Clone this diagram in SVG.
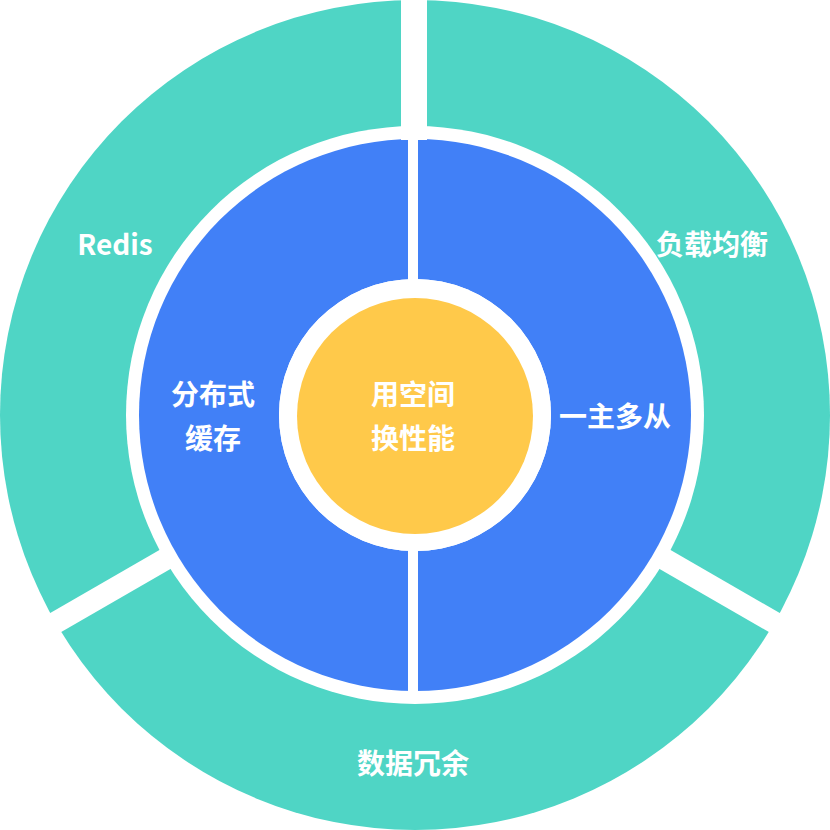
<svg xmlns="http://www.w3.org/2000/svg" width="830" height="830" viewBox="0 0 830 830">
<style>
.t{font-family:"Noto Sans CJK SC","Liberation Sans",sans-serif;font-weight:bold;fill:#fff;text-anchor:middle;dominant-baseline:central}
.gap{stroke:#fff;fill:none}
</style>
<rect width="830" height="830" fill="#fff"/>
<g id="outer-ring">
<circle cx="415" cy="415" r="415" fill="#4FD5C5"/>
<circle cx="415" cy="415" r="289" fill="#fff"/>
</g>
<g id="middle-ring">
<circle cx="415" cy="415" r="276" fill="#4180F7"/>
<circle cx="415" cy="415" r="136" fill="#fff"/>
</g>
<g id="connectors">
<line class="gap" x1="414" y1="0" x2="414" y2="140" stroke-width="26"/>
<line class="gap" x1="413" y1="138" x2="413" y2="692" stroke-width="10"/>
<line class="gap" x1="659" y1="556" x2="789" y2="631" stroke-width="22"/>
<line class="gap" x1="171" y1="556" x2="41" y2="631" stroke-width="22"/>
</g>
<g id="center">
<circle cx="415" cy="415" r="136" fill="#fff"/>
<circle cx="415" cy="416" r="118" fill="#FFC94A"/>
<text class="t" x="413" y="393" font-size="28">用空间</text>
<text class="t" x="413" y="437" font-size="28">换性能</text>
</g>
<g id="redis"><text class="t" x="115" y="243" font-size="28" font-family="Liberation Sans,sans-serif">Redis</text></g>
<g id="lb"><text class="t" x="712" y="243" font-size="28">负载均衡</text></g>
<g id="cache"><text class="t" x="213" y="393" font-size="28">分布式</text><text class="t" x="213" y="437" font-size="28">缓存</text></g>
<g id="ms"><text class="t" x="615" y="415" font-size="28">一主多从</text></g>
<g id="redund"><text class="t" x="413" y="762" font-size="28">数据冗余</text></g>
</svg>
